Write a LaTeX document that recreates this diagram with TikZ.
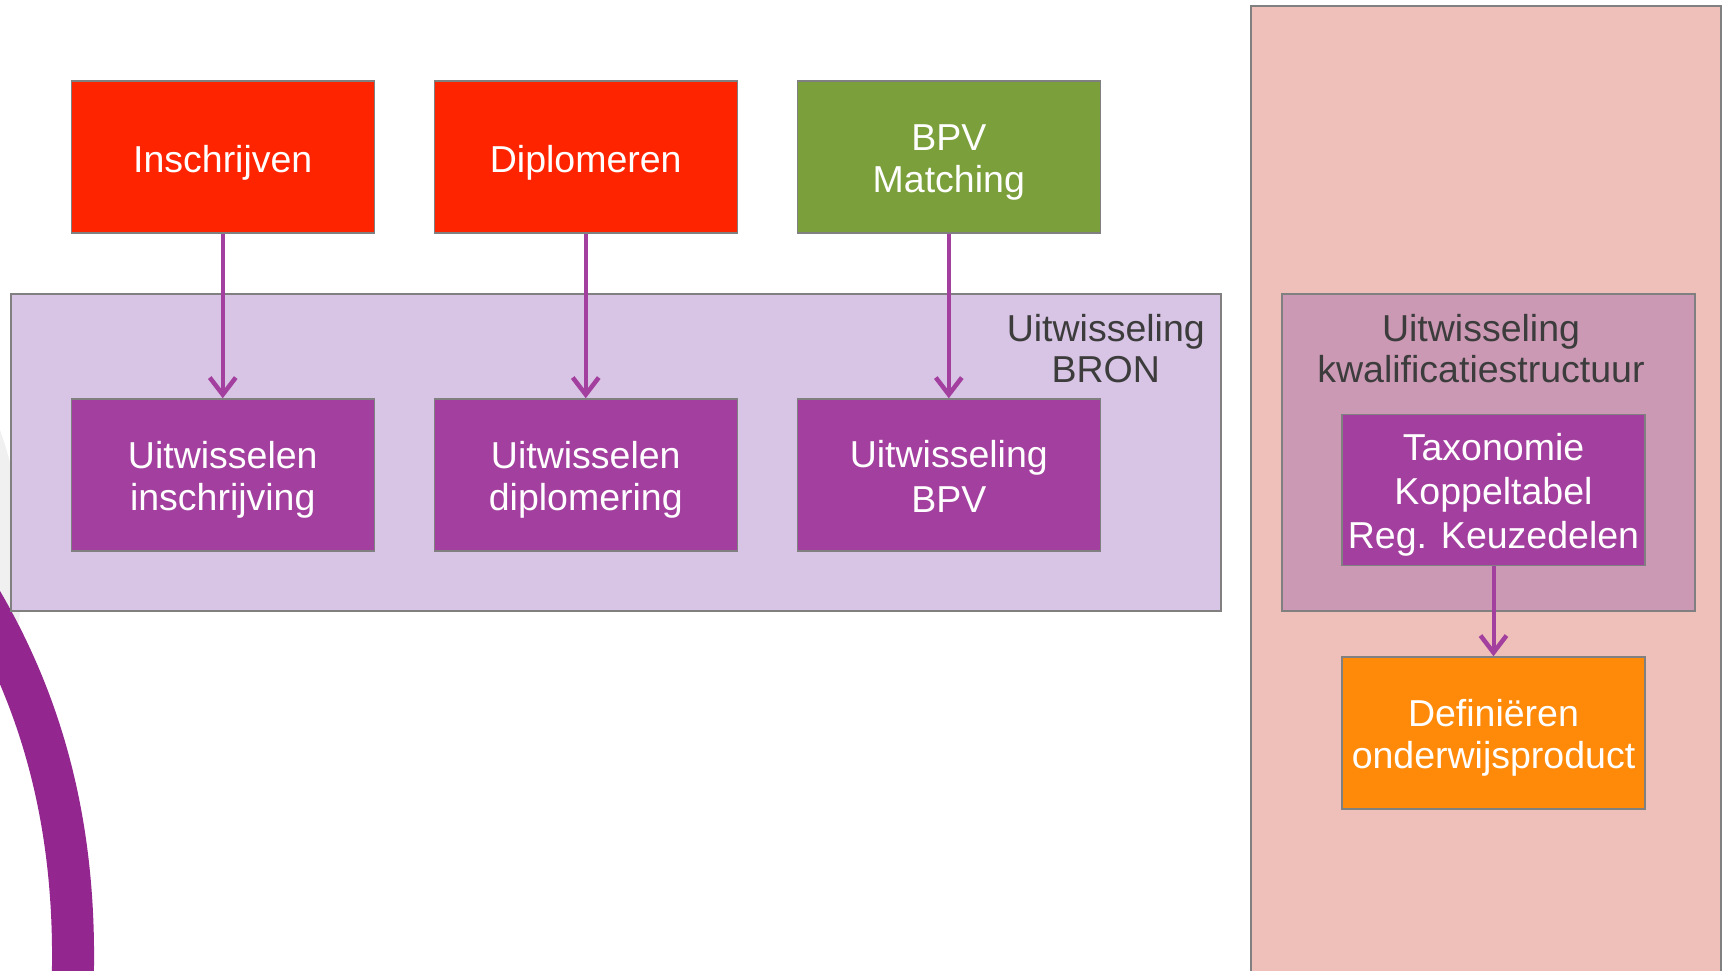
\documentclass[tikz,border=0pt]{standalone}
\usepackage{fontspec}
\setmainfont{Liberation Sans}
\usepackage{xcolor}
\usetikzlibrary{arrows.meta}

\definecolor{rood}{HTML}{FF2400}
\definecolor{groen}{HTML}{7A9F3B}
\definecolor{paars}{HTML}{A33F9E}
\definecolor{lila}{HTML}{D8C4E4}
\definecolor{roze}{HTML}{EFC0BA}
\definecolor{mauve}{HTML}{CC99B5}
\definecolor{oranje}{HTML}{FF8A0A}
\definecolor{boogpaars}{HTML}{93278F}
\definecolor{rand}{HTML}{808080}
\definecolor{tekstgrijs}{HTML}{3C3C3C}

\newcommand{\regel}{\rule[-6pt]{0pt}{42pt}}
\newcommand{\enkel}{\rule[-4pt]{0pt}{42pt}}

\begin{document}
\begin{tikzpicture}[x=1pt,y=-1pt,
  blok/.style={draw=rand,line width=1.5pt,minimum width=303pt,minimum height=152pt,
    inner sep=0pt,text=white,align=center,font=\fontsize{37.5}{42}\selectfont},
  vlak/.style={draw=rand,line width=1.5pt,inner sep=0pt},
  kop/.style={text=tekstgrijs,align=center,inner sep=0pt,font=\fontsize{37.5}{41.5}\selectfont},
  pijl/.style={draw=paars,line width=4pt,-{Straight Barb[length=17pt,width=26pt,line width=4.5pt]}}]
\useasboundingbox (0,0) rectangle (1725,970);

\node[vlak,fill=roze,minimum width=470pt,minimum height=980pt] (kolom) at (1486,496) {};

\fill[black!6] (0,430) .. controls (25,500) and (30,580) .. (12,660) -- (0,660) -- cycle;
\draw[boogpaars,line width=42pt] (-25,590) .. controls (42,700) and (80,830) .. (72,1000);

\node[vlak,fill=lila,minimum width=1210pt,minimum height=317pt] (bron) at (616,452.5) {};
\node[vlak,fill=mauve,minimum width=413pt,minimum height=317pt] (kwal) at (1488.3,452.5) {};

\node[kop,anchor=north east] (bronlabel) at (1205,314) {Uitwisseling\\BRON};
\node[kop,anchor=north] (kwallabel) at (1481,314) {Uitwisseling\\kwalificatiestructuur};

\node[blok,fill=rood] (inschrijven) at (222.75,157) {Inschrijven\enkel};
\node[blok,fill=rood] (diplomeren) at (585.75,157) {Diplomeren\enkel};
\node[blok,fill=groen] (matching) at (948.8,157) {BPV\regel\\Matching\regel};

\node[blok,fill=paars] (uinschrijving) at (222.75,475) {Uitwisselen\regel\\inschrijving\regel};
\node[blok,fill=paars] (udiplomering) at (585.75,475) {Uitwisselen\regel\\diplomering\regel};
\node[blok,fill=paars] (ubpv) at (948.8,475) {Uitwisseling\regel\\BPV\regel};

\node[blok,fill=paars,minimum height=151pt,font=\fontsize{37.5}{44}\selectfont] (taxonomie) at (1493.5,490) {Taxonomie\regel\\Koppeltabel\regel\\Reg. Keuzedelen\regel};
\node[blok,fill=oranje] (onderwijsproduct) at (1493.5,733) {Definiëren\regel\\onderwijsproduct\regel};

\draw[pijl] (inschrijven) -- (uinschrijving);
\draw[pijl] (diplomeren) -- (udiplomering);
\draw[pijl] (matching) -- (ubpv);
\draw[pijl] (taxonomie) -- (onderwijsproduct);
\end{tikzpicture}
\end{document}
